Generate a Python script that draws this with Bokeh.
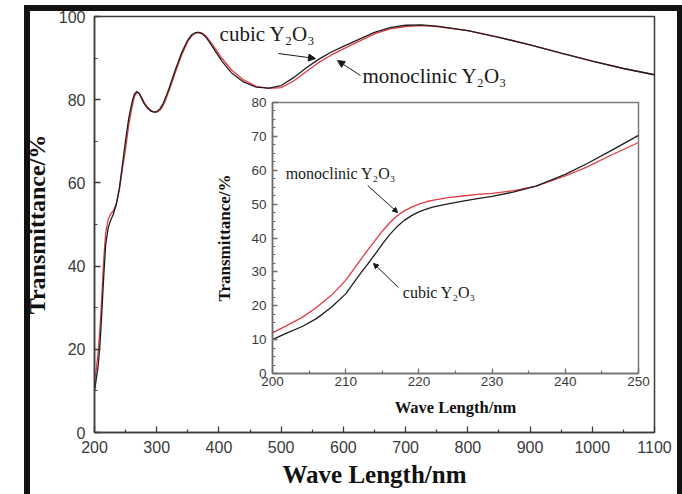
from bokeh.plotting import figure
from bokeh.models import FixedTicker, Arrow, NormalHead, Label, Div, Range1d
from bokeh.layouts import column
from bokeh.embed import file_html
from bokeh.resources import INLINE

# ---------------- data ----------------
series_names = ["cubic Y\u2082O\u2083", "monoclinic Y\u2082O\u2083"]

main_nm = [200, 203, 206, 209, 212, 215, 218, 222, 226, 230, 235, 240, 245, 250, 255,
           260, 264, 268, 272, 276, 280, 285, 290, 295, 300, 305, 310, 315, 320, 330,
           340, 350, 356, 362, 367, 372, 378, 385, 395, 405, 420, 440, 460, 480, 500,
           520, 540, 560, 580, 600, 625, 650, 675, 700, 725, 750, 800, 850, 900, 950,
           1000, 1050, 1100]
main_cubic = [10, 13, 16.2, 21.5, 29.5, 38, 45.2, 49.2, 51, 52.4, 54.8, 58.8, 64.5, 70.3, 75.5,
              79.2, 81.3, 82, 81.5, 80.2, 79, 78, 77.3, 77, 77.1, 77.8, 79, 80.8, 82.8, 87.2,
              91.3, 94.4, 95.6, 96.1, 96.2, 95.9, 95.2, 93.8, 91.5, 89.2, 86.5, 84.2, 83, 82.8, 83.4,
              85.3, 87.6, 89.7, 91.4, 92.8, 94.5, 96.2, 97.3, 97.9, 98, 97.7, 96.6, 95, 93.2, 91.2,
              89.3, 87.5, 86]
main_mono = [12, 15.5, 19.5, 25.5, 33.5, 42, 48, 51.2, 52.6, 53.2, 54.9, 58.3, 63.5, 68.2, 73.8,
             78, 80.7, 81.7, 81.5, 80.5, 79.3, 78.3, 77.5, 77.1, 77, 77.4, 78.5, 80.2, 82.2, 86.6,
             90.7, 94, 95.3, 96, 96.2, 96.1, 95.5, 94.2, 92.1, 89.9, 87.2, 84.7, 83.2, 82.7, 82.9,
             84.5, 86.7, 88.9, 90.7, 92.2, 94.0, 95.8, 97.0, 97.6, 97.8, 97.6, 96.6, 95, 93.2, 91.2,
             89.3, 87.5, 86]

inset_nm = [200, 202, 204, 206, 208, 210, 212, 213, 214, 215, 216, 217, 218, 219, 220,
            221, 222, 224, 226, 228, 230, 233, 236, 240, 243, 246, 250]
inset_cubic = [10, 12, 13.8, 16.2, 19.5, 23.5, 29.5, 32.3, 35.2, 38.2, 41, 43.3, 45.2, 46.6, 47.7,
               48.5, 49.2, 50.1, 50.9, 51.6, 52.3, 53.6, 55.3, 58.8, 62, 65.5, 70.3]
inset_mono = [12, 14.2, 16.5, 19.5, 23, 27.5, 33.5, 36.4, 39.2, 42, 44.5, 46.5, 48, 49.1, 50,
              50.7, 51.2, 51.9, 52.4, 52.9, 53.2, 54, 55.3, 58.3, 61, 64.2, 68.2]

main_xticks = [200, 300, 400, 500, 600, 700, 800, 900, 1000, 1100]
main_xminor = [250, 350, 450, 550, 650, 750, 850, 950, 1050]
main_yticks = [0, 20, 40, 60, 80, 100]
main_yminor = [10, 30, 50, 70, 90]
inset_xticks = [200, 210, 220, 230, 240, 250]
inset_xminor = [205, 215, 225, 235, 245]
inset_yticks = [0, 10, 20, 30, 40, 50, 60, 70, 80]
inset_yminor = [2.5, 5, 7.5, 12.5, 15, 17.5, 22.5, 25, 27.5, 32.5, 35, 37.5, 42.5, 45, 47.5,
                52.5, 55, 57.5, 62.5, 65, 67.5, 72.5, 75, 77.5]

x_title = "Wave Length/nm"
y_title = "Transmittance/%"

CUBIC = "#1e1e1e"
MONO = "#e23a46"
AX = "#3c3c3c"
SERIF = "Liberation Serif"
SANS = "Liberation Sans"


def style_axes(p, tick_size, title_size, ax_color, tick_in, minor_in):
    p.grid.visible = False
    for ax in (p.xaxis[0], p.yaxis[0]):
        ax.axis_line_color = ax_color
        ax.axis_line_width = 1.5
        ax.major_tick_line_color = ax_color
        ax.minor_tick_line_color = ax_color
        ax.major_tick_line_width = 1.3
        ax.minor_tick_line_width = 1.2
        ax.major_tick_in = tick_in
        ax.major_tick_out = 0
        ax.minor_tick_in = minor_in
        ax.minor_tick_out = 0
        ax.major_label_text_font = SANS
        ax.major_label_text_font_size = tick_size
        ax.major_label_text_color = "#3a3a3a"
        ax.axis_label_text_font = SERIF
        ax.axis_label_text_font_style = "bold"
        ax.axis_label_text_font_size = title_size
        ax.axis_label_text_color = "#111111"


# ---------------- main figure (fills the page) ----------------
main = figure(width=682, height=494, x_range=Range1d(200, 1100), y_range=Range1d(0, 100),
              output_backend="svg", toolbar_location=None,
              min_border_left=94, min_border_right=28, min_border_top=16, min_border_bottom=62,
              background_fill_color="white", border_fill_color="white",
              outline_line_color=AX, outline_line_width=1.5)
main.line(main_nm, main_mono, line_color=MONO, line_width=1.3)
main.line(main_nm, main_cubic, line_color=CUBIC, line_width=1.3)
main.xaxis.ticker = FixedTicker(ticks=main_xticks, minor_ticks=main_xminor)
main.yaxis.ticker = FixedTicker(ticks=main_yticks, minor_ticks=main_yminor)
main.xaxis.axis_label = x_title
main.yaxis.axis_label = y_title
style_axes(main, "16px", "25px", AX, 6, 3)
main.xaxis.major_label_standoff = 8
main.yaxis.major_label_standoff = 9
main.xaxis.axis_label_standoff = 5
main.yaxis.axis_label_standoff = 6
main.yaxis.axis_label_text_font_size = "24px"

main.add_layout(Label(x=401, y=95.9, text=series_names[0], text_font=SERIF,
                      text_font_size="21px", text_baseline="middle", text_color="#1a1a1a"))
main.add_layout(Label(x=630.7, y=85.6, text=series_names[1], text_font=SERIF,
                      text_font_size="21px", text_baseline="middle", text_color="#1a1a1a"))
main.add_layout(Arrow(x_start=495.7, y_start=91.1, x_end=555.2, y_end=89.9,
                      line_color="#1a1a1a", line_width=1,
                      end=NormalHead(size=7, fill_color="#1a1a1a", line_color="#1a1a1a")))
main.add_layout(Arrow(x_start=627.5, y_start=85.8, x_end=590.6, y_end=89.4,
                      line_color="#1a1a1a", line_width=1,
                      end=NormalHead(size=7, fill_color="#1a1a1a", line_color="#1a1a1a")))

# ---------------- inset figure ----------------
# (left/right borders equal to the main figure's, since the column aligns plot frames)
inset = figure(width=488, height=328, x_range=Range1d(200, 250), y_range=Range1d(0, 80),
               output_backend="svg", toolbar_location=None,
               min_border_left=94, min_border_right=28, min_border_top=10, min_border_bottom=47,
               background_fill_color="white", border_fill_alpha=0,
               outline_line_color="#7a7a7a", outline_line_width=1.5)
inset.line(inset_nm, inset_mono, line_color=MONO, line_width=1.3)
inset.line(inset_nm, inset_cubic, line_color=CUBIC, line_width=1.3)
inset.xaxis.ticker = FixedTicker(ticks=inset_xticks, minor_ticks=inset_xminor)
inset.yaxis.ticker = FixedTicker(ticks=inset_yticks, minor_ticks=inset_yminor)
inset.xaxis.axis_label = x_title
inset.yaxis.axis_label = y_title
style_axes(inset, "13.5px", "16.5px", "#6e6e6e", 5, 3)
inset.yaxis.axis_label_text_font_size = "17px"
inset.xaxis.major_label_standoff = 3
inset.yaxis.major_label_standoff = 6
inset.xaxis.axis_label_standoff = 9
inset.yaxis.axis_label_standoff = 14

inset.add_layout(Label(x=201.8, y=59.0, text=series_names[1], text_font=SERIF,
                       text_font_size="16px", text_baseline="middle", text_color="#1a1a1a"))
inset.add_layout(Label(x=217.8, y=23.9, text=series_names[0], text_font=SERIF,
                       text_font_size="16px", text_baseline="middle", text_color="#1a1a1a"))
inset.add_layout(Arrow(x_start=213.0, y_start=55.5, x_end=217.1, y_end=47.5,
                       line_color="#1a1a1a", line_width=1,
                       end=NormalHead(size=5, fill_color="#1a1a1a", line_color="#1a1a1a")))
inset.add_layout(Arrow(x_start=217.2, y_start=25.4, x_end=213.8, y_end=32.5,
                       line_color="#1a1a1a", line_width=1,
                       end=NormalHead(size=5, fill_color="#1a1a1a", line_color="#1a1a1a")))

# ---------------- page composition ----------------
main.styles = {"position": "absolute", "left": "0px", "top": "0px", "z-index": "1"}
inset.styles = {"position": "absolute", "left": "178px", "top": "92px", "z-index": "2"}


def bar(left, top, w, h):
    return Div(text="", width=w, height=h, sizing_mode="fixed",
               styles={"position": "absolute", "left": f"{left}px", "top": f"{top}px",
                       "width": f"{w}px", "height": f"{h}px",
                       "min-width": f"{w}px", "min-height": f"{h}px",
                       "background-color": "#121212", "z-index": "50"})


frame_bars = [bar(19, 0, 663, 6), bar(19, 489, 663, 5), bar(19, 0, 6, 494), bar(672, 0, 10, 494)]

page = column(main, inset, *frame_bars, width=682, height=494,
              styles={"position": "relative", "background-color": "white"})

open("out.html", "w").write(file_html(page, INLINE))
